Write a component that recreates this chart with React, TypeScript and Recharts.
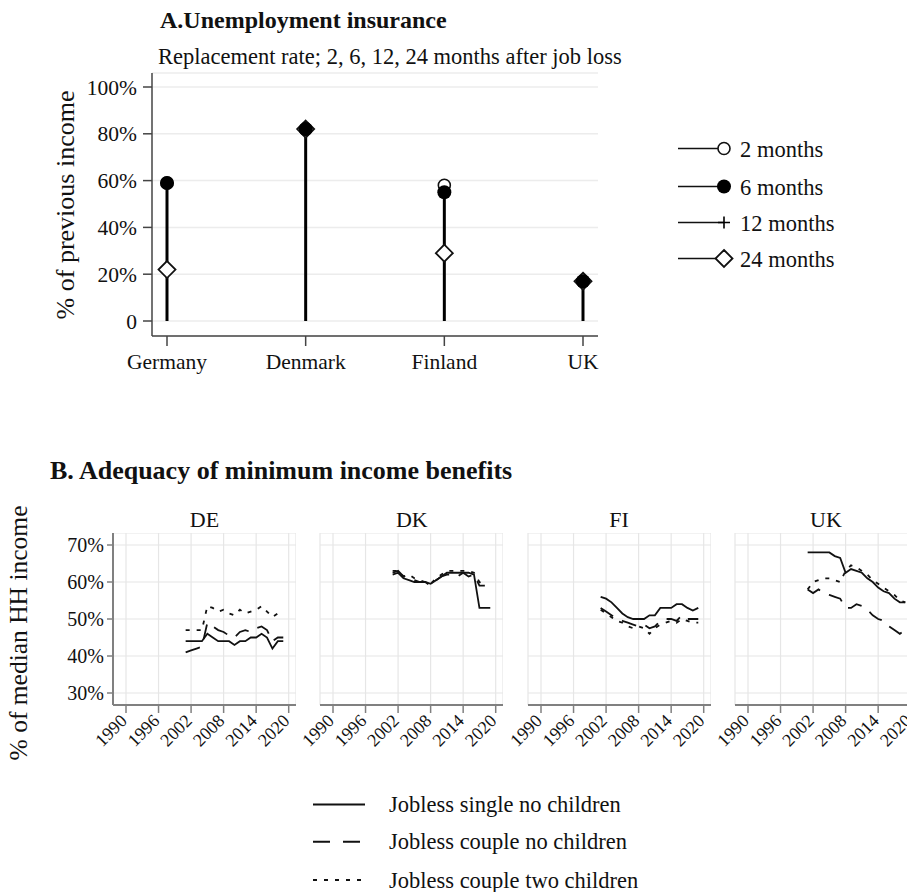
import React from 'react'
import {
    ComposedChart,
    Scatter,
    ErrorBar,
    LineChart,
    Line,
    XAxis,
    YAxis,
    CartesianGrid,
} from 'recharts'

// Panel A: replacement rates (%)
const COUNTRIES_A = ['Germany', 'Denmark', 'Finland', 'UK']
const RATE_2M = [59, 82, 58, 17]
const RATE_6M = [59, 82, 55, 17]
const RATE_12M = [59, 82, 55, 17]
const RATE_24M = [22, 82, 29, 17]
const TICKS_A = [0, 20, 40, 60, 80, 100]

// Panel B: minimum income benefits, % of median HH income
const YEARS_B = [2001, 2002, 2003, 2004, 2005, 2006, 2007, 2008, 2009, 2010, 2011, 2012, 2013, 2014, 2015, 2016, 2017, 2018, 2019]
const YEAR_TICKS = [1990, 1996, 2002, 2008, 2014, 2020]
const TICKS_B = [30, 40, 50, 60, 70]

const DE_SINGLE = [44, 44, 44, 44, 46, 45, 44, 44, 44, 43, 44, 44, 45, 45, 46, 45, 42, 44, 44]
const DE_COUPLE = [41, 41.5, 42, 42.5, 49, 48, 47, 46.5, 45.5, 45, 46.5, 47, 46.5, 47.5, 48, 47, 44, 45, 45]
const DE_KIDS = [47, 47, 47, 47, 53.5, 53, 52, 52.5, 51.5, 51, 52.5, 51.5, 52, 52.5, 53.5, 52, 50.5, 51.5, 52]

const DK_SINGLE = [62, 62.5, 61, 60.5, 60, 60, 60, 59.5, 60.5, 61.5, 62.5, 62.5, 62.5, 62.5, 62.5, 62, 53, 53, 53]
const DK_COUPLE = [62.5, 63, 61.5, 61, 60.5, 60, 60, 59, 60.5, 61.5, 62, 62, 61.5, 62.5, 61.5, 62, 59, 59, null]
const DK_KIDS = [63, 63, 61.5, 62, 61, 60.5, 60, 59.5, 61, 62, 63, 63, 63, 63, 63, 62.5, 60, 59, null]

const FI_SINGLE = [56, 55.5, 54.5, 53, 51.5, 50.5, 50, 50, 50, 51, 51, 53, 53, 53, 54, 54, 53, 52.3, 53]
const FI_COUPLE = [53, 52, 51, 50, 49.5, 49, 48.5, 48, 48.5, 47.5, 48, 49.5, 50, 50, 49.5, 51, 50, 50, 50]
const FI_KIDS = [52.5, 51.5, 50.5, 49.5, 49, 48, 47.5, 48, 47.5, 46, 47.5, 48.5, 49, 49.5, 49, 50, 49.5, 49, 49]

const UK_SINGLE = [68, 68, 68, 68, 68, 67, 66.5, 62.5, 63.5, 63, 62.5, 61, 60, 58.5, 57.5, 57, 55.5, 54.5, 54.5]
const UK_COUPLE = [58, 57, 58, 57, 56.5, 56, 55.5, 53, 53, 54, 53.5, 52.5, 51, 50, 49.5, 48, 47, 46, 47]
const UK_KIDS = [58, 60, 60.5, 61, 61, 60.5, 60, 63, 64.5, 64, 63, 62, 60.5, 59.5, 58.5, 57.5, 56.5, 55, 54.5]

const FONT = '"Liberation Serif", "Times New Roman", serif'
const INK = '#111'

const rowsA = COUNTRIES_A.map((country, i) => {
    const top = Math.max(RATE_2M[i], RATE_6M[i], RATE_12M[i], RATE_24M[i])
    return {
        country,
        m2: RATE_2M[i],
        m6: RATE_6M[i],
        m12: RATE_12M[i],
        m24: RATE_24M[i],
        top,
        stem: [top, 0],
    }
})

const buildRows = (single: (number | null)[], couple: (number | null)[], kids: (number | null)[]) =>
    YEARS_B.map((year, i) => ({ year, single: single[i], couple: couple[i], kids: kids[i] }))

const PANELS = [
    { name: 'DE', rows: buildRows(DE_SINGLE, DE_COUPLE, DE_KIDS) },
    { name: 'DK', rows: buildRows(DK_SINGLE, DK_COUPLE, DK_KIDS) },
    { name: 'FI', rows: buildRows(FI_SINGLE, FI_COUPLE, FI_KIDS) },
    { name: 'UK', rows: buildRows(UK_SINGLE, UK_COUPLE, UK_KIDS) },
]

const LONG_DASH = '15 10'
const SHORT_DASH = '4 7'

// marker shapes
const hollowCircle = (p: any) => <circle cx={p.cx} cy={p.cy} r={6} fill="#fff" stroke={INK} strokeWidth={1.6} />
const filledCircle = (p: any) => <circle cx={p.cx} cy={p.cy} r={7} fill="#000" />
const plus = (p: any) => (
    <path d={`M${p.cx - 6},${p.cy}h12M${p.cx},${p.cy - 6}v12`} stroke="#000" strokeWidth={1.6} fill="none" />
)
const hollowDiamond = (p: any) => (
    <path
        d={`M${p.cx},${p.cy - 8.5}L${p.cx + 8.5},${p.cy}L${p.cx},${p.cy + 8.5}L${p.cx - 8.5},${p.cy}Z`}
        fill="#fff"
        stroke={INK}
        strokeWidth={1.8}
    />
)
const nothing = () => <g />

function YearTick(props: any) {
    const { x, y, payload } = props
    return (
        <text
            transform={`translate(${x + 2},${y + 7}) rotate(-45)`}
            textAnchor="end"
            fontSize={18}
            fontFamily={FONT}
            fill={INK}
        >
            {payload.value}
        </text>
    )
}

function ChartA() {
    return (
        <div style={{ position: 'absolute', left: 0, top: 0 }}>
            <ComposedChart
                width={620}
                height={380}
                data={rowsA}
                margin={{ top: 73, right: 22, bottom: 0, left: 92 }}
            >
                <CartesianGrid vertical={false} stroke="#ececec" strokeWidth={1.5} />
                <XAxis
                    dataKey="country"
                    type="category"
                    scale="point"
                    padding={{ left: 15, right: 15 }}
                    height={44}
                    tickSize={10}
                    tickMargin={8}
                    tick={{ fontSize: 21.5, fill: INK, fontFamily: FONT }}
                    axisLine={{ stroke: '#444', strokeWidth: 1.5 }}
                    tickLine={{ stroke: '#444', strokeWidth: 1.5 }}
                />
                <YAxis
                    type="number"
                    domain={[0, 100]}
                    ticks={TICKS_A}
                    padding={{ top: 14, bottom: 15 }}
                    width={60}
                    tickSize={9}
                    tickMargin={6}
                    tickFormatter={(v) => (v === 0 ? '0' : `${v}%`)}
                    tick={{ fontSize: 21.5, fill: INK, fontFamily: FONT }}
                    axisLine={{ stroke: '#444', strokeWidth: 1.5 }}
                    tickLine={{ stroke: '#444', strokeWidth: 1.5 }}
                />
                <Scatter dataKey="top" shape={nothing} isAnimationActive={false}>
                    <ErrorBar dataKey="stem" direction="y" width={0} stroke="#000" strokeWidth={3} />
                </Scatter>
                <Scatter dataKey="m24" shape={hollowDiamond} isAnimationActive={false} />
                <Scatter dataKey="m2" shape={hollowCircle} isAnimationActive={false} />
                <Scatter dataKey="m6" shape={filledCircle} isAnimationActive={false} />
                <Scatter dataKey="m12" shape={plus} isAnimationActive={false} />
            </ComposedChart>
        </div>
    )
}

const PLOT_LEFT_B = [113, 320.3, 527.5, 734.5]
const MARGIN_B = 30

function PanelB({ rows, index }: { rows: any[]; index: number }) {
    const showY = index === 0
    const yw = showY ? 50 : 0
    const left = PLOT_LEFT_B[index] - MARGIN_B - yw
    return (
        <div style={{ position: 'absolute', left, top: 533 }}>
            <LineChart
                width={183 + MARGIN_B + yw}
                height={222}
                data={rows}
                margin={{ top: 0, right: 0, bottom: 0, left: MARGIN_B }}
            >
                <CartesianGrid stroke="#e6e6e6" strokeWidth={1.2} />
                <XAxis
                    dataKey="year"
                    type="number"
                    domain={[1990, 2020]}
                    ticks={YEAR_TICKS}
                    interval={0}
                    padding={{ left: 13, right: 7.3 }}
                    height={50}
                    tickSize={8}
                    tickMargin={2}
                    tick={<YearTick />}
                    axisLine={{ stroke: '#808080', strokeWidth: 2 }}
                    tickLine={{ stroke: '#808080', strokeWidth: 1.5 }}
                />
                <YAxis
                    hide={!showY}
                    type="number"
                    width={50}
                    domain={[30, 70]}
                    ticks={TICKS_B}
                    padding={{ top: 12, bottom: 12 }}
                    tickSize={6}
                    tickMargin={3}
                    tickFormatter={(v) => `${v}%`}
                    tick={{ fontSize: 20, fill: INK, fontFamily: FONT }}
                    axisLine={{ stroke: '#808080', strokeWidth: 2 }}
                    tickLine={{ stroke: '#808080', strokeWidth: 1.5 }}
                />
                <Line dataKey="kids" stroke={INK} strokeWidth={1.8} strokeDasharray={SHORT_DASH} dot={false} isAnimationActive={false} />
                <Line dataKey="couple" stroke={INK} strokeWidth={1.8} strokeDasharray={LONG_DASH} dot={false} isAnimationActive={false} />
                <Line dataKey="single" stroke={INK} strokeWidth={1.8} dot={false} isAnimationActive={false} />
            </LineChart>
        </div>
    )
}

const LEGEND_A = [
    { label: '2 months', shape: hollowCircle },
    { label: '6 months', shape: filledCircle },
    { label: '12 months', shape: plus },
    { label: '24 months', shape: hollowDiamond },
]
const LEGEND_A_Y = [148.5, 186.5, 222.5, 258.5]

const LEGEND_B = [
    { label: 'Jobless single no children', dash: undefined },
    { label: 'Jobless couple no children', dash: '17 13' },
    { label: 'Jobless couple two children', dash: '4 7' },
]
const LEGEND_B_Y = [804.5, 841.7, 880]

export default function App() {
    return (
        <div
            style={{
                position: 'fixed',
                left: 0,
                top: 0,
                width: 907,
                height: 892,
                overflow: 'hidden',
                background: '#fff',
                fontFamily: FONT,
            }}
        >
            <ChartA />
            {PANELS.map((p, i) => (
                <PanelB key={p.name} rows={p.rows} index={i} />
            ))}
            <svg
                width={907}
                height={892}
                style={{ position: 'absolute', left: 0, top: 0, pointerEvents: 'none' }}
                fontFamily={FONT}
                fill={INK}
            >
                <text x={160} y={28} fontSize={24} fontWeight="bold">A.Unemployment insurance</text>
                <text x={158} y={64} fontSize={22.5}>Replacement rate; 2, 6, 12, 24 months after job loss</text>
                <text transform="translate(74,205) rotate(-90)" textAnchor="middle" fontSize={26}>% of previous income</text>

                {LEGEND_A.map((item, i) => {
                    const y = LEGEND_A_Y[i]
                    return (
                        <g key={item.label}>
                            <line x1={678} x2={724} y1={y} y2={y} stroke={INK} strokeWidth={1.5} />
                            {item.shape({ cx: 724, cy: y })}
                            <text x={740} y={y + 8} fontSize={22.5}>{item.label}</text>
                        </g>
                    )
                })}

                <text x={50} y={479} fontSize={26} fontWeight="bold">B. Adequacy of minimum income benefits</text>
                <text transform="translate(27,633) rotate(-90)" textAnchor="middle" fontSize={25.5}>% of median HH income</text>
                {PANELS.map((p, i) => (
                    <text key={p.name} x={PLOT_LEFT_B[i] + 91.5} y={527} textAnchor="middle" fontSize={22}>
                        {p.name}
                    </text>
                ))}

                {LEGEND_B.map((item, i) => {
                    const y = LEGEND_B_Y[i]
                    return (
                        <g key={item.label}>
                            <line x1={313} x2={365} y1={y} y2={y} stroke={INK} strokeWidth={2} strokeDasharray={item.dash} />
                            <text x={389} y={y + 7.5} fontSize={22.5}>{item.label}</text>
                        </g>
                    )
                })}
            </svg>
        </div>
    )
}
